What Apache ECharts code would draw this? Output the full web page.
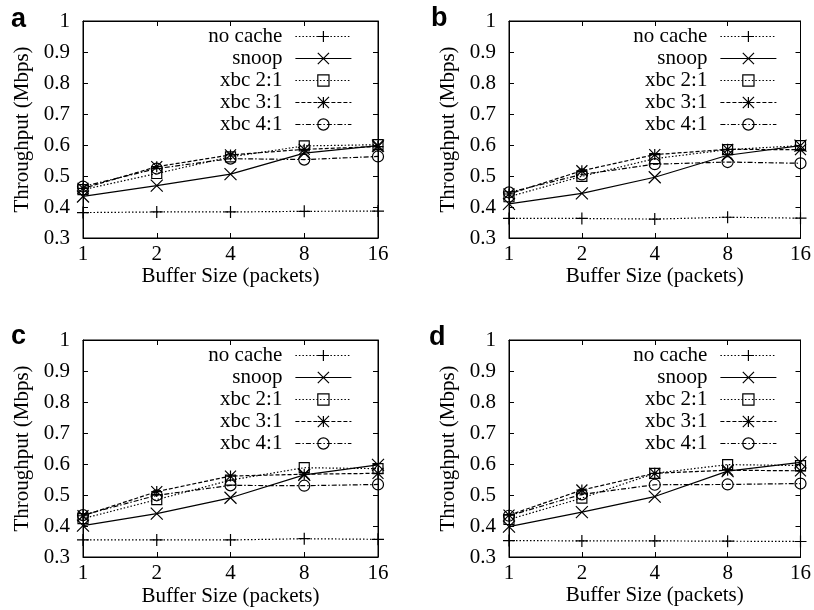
<!DOCTYPE html>
<html><head><meta charset="utf-8">
<script src="https://cdn.jsdelivr.net/npm/echarts@6/dist/echarts.min.js"></script>
<style>html,body{margin:0;padding:0;background:#fff}#c{width:814px;height:610px}</style>
</head><body><div id="c"></div>
<script>
// ---- data ----
const categories = ['1', '2', '4', '8', '16'];
const seriesNames = ['no cache', 'snoop', 'xbc 2:1', 'xbc 3:1', 'xbc 4:1'];
const yTicks = [0.3, 0.4, 0.5, 0.6, 0.7, 0.8, 0.9, 1];
const panelLetters = ['a', 'b', 'c', 'd'];

const aNoCache = [0.382, 0.384, 0.384, 0.386, 0.387];
const aSnoop   = [0.434, 0.469, 0.506, 0.574, 0.598];
const aXbc21   = [0.456, 0.508, 0.562, 0.597, 0.601];
const aXbc31   = [0.460, 0.530, 0.568, 0.586, 0.595];
const aXbc41   = [0.466, 0.524, 0.556, 0.553, 0.563];

const bNoCache = [0.363, 0.363, 0.361, 0.367, 0.364];
const bSnoop   = [0.410, 0.444, 0.496, 0.567, 0.598];
const bXbc21   = [0.433, 0.499, 0.556, 0.585, 0.598];
const bXbc31   = [0.442, 0.517, 0.569, 0.586, 0.585];
const bXbc41   = [0.447, 0.505, 0.538, 0.545, 0.541];

const cNoCache = [0.355, 0.355, 0.355, 0.359, 0.357];
const cSnoop   = [0.401, 0.440, 0.491, 0.565, 0.597];
const cXbc21   = [0.424, 0.485, 0.548, 0.588, 0.585];
const cXbc31   = [0.433, 0.511, 0.561, 0.567, 0.570];
const cXbc41   = [0.435, 0.499, 0.531, 0.530, 0.534];

const dNoCache = [0.353, 0.352, 0.352, 0.351, 0.350];
const dSnoop   = [0.398, 0.445, 0.495, 0.577, 0.605];
const dXbc21   = [0.421, 0.490, 0.570, 0.598, 0.595];
const dXbc31   = [0.435, 0.516, 0.570, 0.580, 0.578];
const dXbc41   = [0.433, 0.502, 0.533, 0.534, 0.537];

const panelData = [
  [aNoCache, aSnoop, aXbc21, aXbc31, aXbc41],
  [bNoCache, bSnoop, bXbc21, bXbc31, bXbc41],
  [cNoCache, cSnoop, cXbc21, cXbc31, cXbc41],
  [dNoCache, dSnoop, dXbc21, dXbc31, dXbc41]
];

// ---- layout / styles ----
const FONT = '"Liberation Serif", "Times New Roman", serif';
const FS = 21;
const grids = [
  {left: 83, top: 21, width: 295, height: 217},
  {left: 509, top: 21, width: 294, height: 217},
  {left: 83, top: 340, width: 295, height: 217},
  {left: 509, top: 340, width: 294, height: 217}
];
const letterPos = [[11, 6], [431, 5], [11, 323], [429, 324]];
const xNameGap = [26, 26, 29, 28];

const plusPath = 'path://M0,5L10,5M5,0L5,10';
const crossPath = 'path://M0,0L10,10M10,0L0,10';
const starPath = 'path://M0,5L10,5M5,0L5,10M0,0L10,10M10,0L0,10';
const LW = 1.2;
const seriesStyles = [
  {symbol: plusPath, size: 12, dash: [1.5, 2]},
  {symbol: crossPath, size: 12, dash: 'solid'},
  {symbol: 'rect', size: 10, dash: [1.5, 2]},
  {symbol: starPath, size: 11, dash: [4, 2]},
  {symbol: 'circle', size: 11, dash: [5, 2, 1.5, 2]}
];

const option = {
  animation: false,
  backgroundColor: '#fff',
  grid: [], xAxis: [], yAxis: [], series: [], legend: [], graphic: []
};

grids.forEach((g, i) => {
  option.grid.push(Object.assign({show: true, borderColor: '#000', borderWidth: 1, backgroundColor: 'transparent'}, g));
  const tickCommon = {show: true, inside: true, length: 5, lineStyle: {color: '#000', width: 1}};
  option.xAxis.push({
    type: 'category', gridIndex: i, data: categories, boundaryGap: false, position: 'bottom',
    axisLine: {lineStyle: {color: '#000', width: 1}},
    axisTick: Object.assign({alignWithLabel: true, interval: 0}, tickCommon),
    axisLabel: {interval: 0, color: '#000', fontFamily: FONT, fontSize: FS, margin: 6},
    splitLine: {show: false},
    name: 'Buffer Size (packets)', nameLocation: 'middle', nameGap: xNameGap[i],
    nameTextStyle: {color: '#000', fontFamily: FONT, fontSize: FS}
  });
  option.xAxis.push({
    type: 'category', gridIndex: i, data: categories, boundaryGap: false, position: 'top',
    axisLine: {lineStyle: {color: '#000', width: 1}},
    axisTick: Object.assign({interval: 0}, tickCommon),
    axisLabel: {show: false}, splitLine: {show: false}
  });
  const yCommon = {
    type: 'value', gridIndex: i, min: yTicks[0], max: yTicks[yTicks.length - 1], interval: 0.1,
    axisLine: {show: true, lineStyle: {color: '#000', width: 1}},
    axisTick: tickCommon, splitLine: {show: false}
  };
  option.yAxis.push(Object.assign({}, yCommon, {
    position: 'left',
    axisLabel: {color: '#000', fontFamily: FONT, fontSize: FS, margin: 13,
      formatter: v => String(parseFloat(v.toFixed(1)))},
    name: 'Throughput (Mbps)', nameLocation: 'middle', nameGap: 50, nameRotate: 90,
    nameTextStyle: {color: '#000', fontFamily: FONT, fontSize: FS}
  }));
  option.yAxis.push(Object.assign({}, yCommon, {position: 'right', axisLabel: {show: false}}));

  panelData[i].forEach((vals, k) => {
    const st = seriesStyles[k];
    option.series.push({
      type: 'line', name: seriesNames[k], xAxisIndex: 2 * i, yAxisIndex: 2 * i,
      data: vals, symbol: st.symbol, symbolSize: st.size, showSymbol: true, showAllSymbol: true,
      lineStyle: {color: '#000', width: LW, type: st.dash},
      itemStyle: {color: 'none', borderColor: '#000', borderWidth: LW},
      emphasis: {disabled: true}, z: 2 + k
    });
  });

  option.legend.push({
    data: seriesNames, orient: 'vertical', align: 'right', padding: 0,
    right: 814 - (g.left + g.width - 26), top: g.top + 5,
    itemWidth: 56, itemHeight: 14, itemGap: 1, selectedMode: false,
    textStyle: {color: '#000', fontFamily: FONT, fontSize: FS, padding: [0, 8, 0, 0]},
    lineStyle: {width: LW}, itemStyle: {borderWidth: LW}
  });

  option.graphic.push({
    type: 'text', left: letterPos[i][0], top: letterPos[i][1],
    style: {text: panelLetters[i], fill: '#000', font: 'bold 27px "Liberation Sans", Arial, sans-serif'}
  });
});

const chart = echarts.init(document.getElementById('c'), null, {renderer: 'canvas'});
chart.setOption(option);
</script></body></html>
